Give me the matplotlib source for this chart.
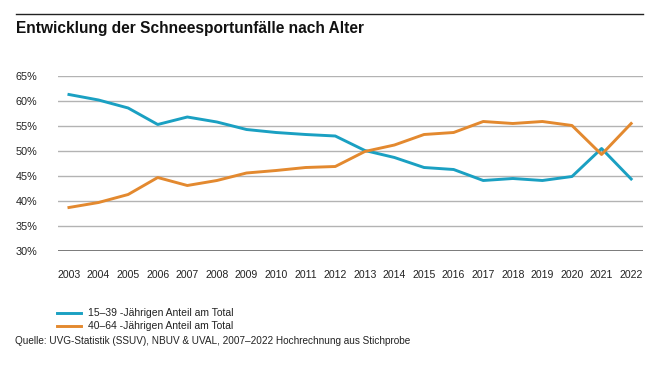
import matplotlib
matplotlib.use("Agg")
import matplotlib.pyplot as plt
from matplotlib.lines import Line2D

plt.rcParams['font.family'] = ['Liberation Sans', 'DejaVu Sans']

# --- Daten ---
jahre = list(range(2003, 2023))
anteil_15_39 = [61.3, 60.2, 58.6, 55.3, 56.8, 55.8, 54.3, 53.7, 53.3, 53.0,
                50.1, 48.7, 46.7, 46.3, 44.1, 44.5, 44.1, 44.9, 50.5, 44.4]
anteil_40_64 = [38.7, 39.7, 41.3, 44.7, 43.1, 44.1, 45.6, 46.1, 46.7, 46.9,
                49.9, 51.2, 53.3, 53.7, 55.9, 55.5, 55.9, 55.1, 49.3, 55.5]
y_ticks = [30, 35, 40, 45, 50, 55, 60, 65]
label_15_39 = "15–39 -Jährigen Anteil am Total"
label_40_64 = "40–64 -Jährigen Anteil am Total"

blau = "#1aa0c2"
orange = "#e3892f"
text_col = "#222222"

W, H = 658, 366
fig = plt.figure(figsize=(W / 100, H / 100), dpi=100)

# Achse in Pixelkoordinaten platzieren
x0, x1, ytop, ybot = 58, 643, 76, 251
ax = fig.add_axes([x0 / W, 1 - ybot / H, (x1 - x0) / W, (ybot - ytop) / H])

for v in y_ticks:
    if v == 30:
        ax.axhline(v, color="#6e6e6e", lw=2.0, zorder=1)
    else:
        ax.axhline(v, color="#b3b3b3", lw=1.0, zorder=1)

ax.plot(jahre, anteil_15_39, color=blau, lw=2.1, zorder=3)
ax.plot(jahre, anteil_40_64, color=orange, lw=2.1, zorder=3)

ax.set_xlim(2002.63, 2022.40)
ax.set_ylim(30, 65)
ax.set_yticks(y_ticks)
ax.set_yticklabels([f"{v}%" for v in y_ticks])
ax.set_xticks(jahre)
ax.set_xticklabels([str(j) for j in jahre])
ax.tick_params(axis="y", length=0, pad=15, labelsize=7.8, labelcolor=text_col)
ax.tick_params(axis="x", length=0, pad=14, labelsize=7.6, labelcolor=text_col)
for s in ax.spines.values():
    s.set_visible(False)

# Kopfzeile
fig.add_artist(Line2D([16 / W, 643 / W], [1 - 14.3 / H, 1 - 14.3 / H], color="#222222", lw=1.0))
fig.text(16 / W, 1 - 29 / H, "Entwicklung der Schneesportunfälle nach Alter",
         fontsize=11.2, fontweight="bold", va="center", ha="left", color="#111111")

# Legende
for yy, col, lab in [(313, blau, label_15_39), (326, orange, label_40_64)]:
    fig.add_artist(Line2D([57 / W, 81 / W], [1 - yy / H, 1 - yy / H], color=col, lw=2.1))
    fig.text(88 / W, 1 - yy / H, lab, fontsize=7.5, va="center", ha="left", color=text_col)

fig.text(15 / W, 1 - 341 / H,
         "Quelle: UVG-Statistik (SSUV), NBUV & UVAL, 2007–2022 Hochrechnung aus Stichprobe",
         fontsize=7.2, va="center", ha="left", color=text_col)

fig.savefig("out.png", dpi=100, facecolor="white")
